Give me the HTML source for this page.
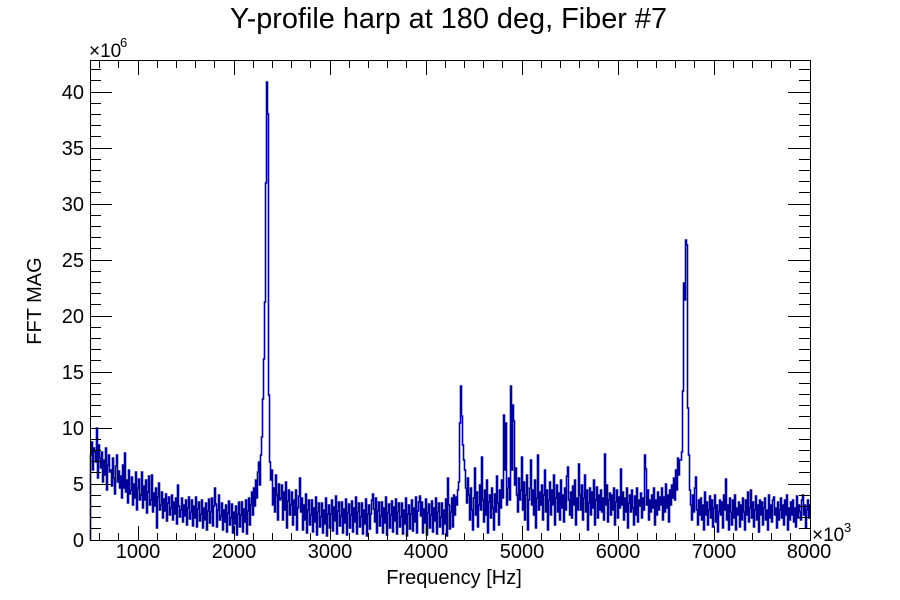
<!DOCTYPE html>
<html><head><meta charset="utf-8"><style>
html,body{margin:0;padding:0;background:#fff;}
svg{display:block;}
text{font-family:"Liberation Sans",Arial,sans-serif;fill:#000;}
</style></head><body>
<svg width="900" height="600" viewBox="0 0 900 600" xmlns="http://www.w3.org/2000/svg">
<rect x="0" y="0" width="900" height="600" fill="#fff"/>
<text x="448.5" y="28" font-size="28.5" text-anchor="middle" textLength="437" lengthAdjust="spacingAndGlyphs">Y-profile harp at 180 deg, Fiber #7</text>
<path fill="none" stroke="#000099" stroke-width="1.6" d="M90.5,540V455h1V442h1V470h1V448h1V452h1V462h1V428h1V478h1V445h1V458h1V468h1V452h1V482h1V460h1V475h1V448h1V490h1V465h1V455h1V472h1V470h1V486h1V458h1V478h1V494h1V466h1V455h1V482h1V471h1V488h1V476h1V498h1V465h1V488h1V453h1V492h1V480h1V503h1V470h1V494h1V490h1V477h1V505h1V484h1V498h1V472h1V510h1V488h1V479h1V500h1V495h1V472h1V508h1V486h1V500h1V480h1V513h1V492h1V476h1V505h1V500h1V475h1V512h1V493h1V506h1V488h1V528h1V497h1V483h1V510h1V505h1V492h1V518h1V499h1V511h1V494h1V521h1V503h1V497h1V515h1V508h1V495h1V520h1V502h1V514h1V498h1V524h1V485h1V506h1V517h1V510h1V498h1V522h1V505h1V516h1V500h1V525h1V508h1V497h1V519h1V512h1V500h1V526h1V506h1V518h1V497h1V527h1V509h1V502h1V521h1V514h1V500h1V528h1V508h1V520h1V503h1V530h1V511h1V499h1V523h1V512h1V498h1V526h1V506h1V488h1V504h1V527h1V510h1V495h1V520h1V516h1V503h1V530h1V510h1V522h1V505h1V532h1V513h1V501h1V525h1V518h1V504h1V533h1V512h1V524h1V506h1V535h1V514h1V502h1V527h1V515h1V502h1V532h1V509h1V522h1V500h1V534h1V511h1V498h1V525h1V505h1V492h1V515h1V488h1V506h1V480h1V498h1V472h1V462h1V485h1V455h1V437h1V399h1V359h1V302h1V183h1V82h1V114h1V395h1V462h1V480h1V470h1V505h1V488h1V512h1V475h1V495h1V520h1V484h1V500h1V498h1V485h1V520h1V492h1V510h1V482h1V528h1V501h1V490h1V515h1V505h1V492h1V525h1V500h1V515h1V490h1V530h1V508h1V496h1V478h1V512h1V498h1V530h1V505h1V520h1V494h1V533h1V510h1V500h1V525h1V515h1V500h1V532h1V508h1V522h1V497h1V535h1V512h1V503h1V527h1V517h1V503h1V533h1V510h1V524h1V498h1V536h1V514h1V505h1V528h1V514h1V500h1V531h1V507h1V521h1V496h1V534h1V511h1V502h1V526h1V516h1V502h1V533h1V509h1V523h1V499h1V535h1V513h1V504h1V528h1V515h1V501h1V532h1V508h1V522h1V497h1V534h1V512h1V503h1V527h1V517h1V503h1V534h1V510h1V524h1V499h1V536h1V514h1V505h1V529h1V514h1V500h1V494h1V509h1V522h1V498h1V533h1V511h1V502h1V526h1V516h1V502h1V533h1V508h1V523h1V497h1V535h1V513h1V504h1V528h1V515h1V501h1V532h1V507h1V521h1V499h1V534h1V512h1V503h1V527h1V517h1V503h1V534h1V510h1V524h1V498h1V536h1V514h1V505h1V529h1V514h1V500h1V531h1V508h1V522h1V497h1V533h1V511h1V502h1V496h1V516h1V502h1V533h1V509h1V523h1V499h1V535h1V513h1V504h1V528h1V515h1V501h1V532h1V508h1V521h1V498h1V534h1V512h1V503h1V527h1V517h1V503h1V534h1V510h1V524h1V499h1V536h1V478h1V505h1V529h1V512h1V498h1V527h1V495h1V515h1V497h1V505h1V490h1V482h1V423h1V386h1V416h1V445h1V460h1V470h1V488h1V503h1V478h1V495h1V520h1V488h1V510h1V530h1V498h1V468h1V515h1V492h1V527h1V505h1V485h1V510h1V457h1V500h1V522h1V490h1V515h1V480h1V533h1V502h1V495h1V518h1V488h1V508h1V530h1V494h1V512h1V476h1V503h1V525h1V490h1V508h1V480h1V498h1V415h1V470h1V423h1V505h1V488h1V478h1V500h1V386h1V470h1V405h1V421h1V485h1V468h1V495h1V512h1V478h1V500h1V490h1V457h1V510h1V482h1V520h1V495h1V475h1V530h1V500h1V488h1V460h1V505h1V490h1V515h1V480h1V528h1V498h1V455h1V510h1V492h1V505h1V485h1V520h1V495h1V470h1V512h1V490h1V530h1V500h1V482h1V515h1V490h1V505h1V475h1V525h1V498h1V485h1V512h1V493h1V520h1V480h1V508h1V495h1V522h1V488h1V510h1V476h1V467h1V500h1V515h1V492h1V518h1V486h1V505h1V480h1V525h1V498h1V510h1V464h1V495h1V510h1V485h1V520h1V498h1V475h1V512h1V490h1V530h1V503h1V488h1V515h1V492h1V508h1V480h1V525h1V500h1V487h1V518h1V495h1V510h1V490h1V512h1V498h1V520h1V454h1V505h1V485h1V522h1V500h1V493h1V515h1V495h1V510h1V488h1V525h1V502h1V490h1V518h1V497h1V508h1V469h1V505h1V492h1V520h1V498h1V512h1V488h1V528h1V503h1V495h1V512h1V490h1V508h1V525h1V496h1V515h1V488h1V522h1V500h1V506h1V493h1V518h1V498h1V510h1V455h1V469h1V505h1V490h1V520h1V500h1V512h1V495h1V508h1V488h1V525h1V500h1V515h1V492h1V510h1V497h1V505h1V488h1V520h1V497h1V512h1V484h1V508h1V495h1V522h1V490h1V505h1V485h1V498h1V478h1V500h1V470h1V490h1V458h1V475h1V460h1V460h1V452h1V391h1V283h1V300h1V240h1V245h1V408h1V455h1V490h1V505h1V520h1V495h1V512h1V488h1V477h1V510h1V525h1V500h1V515h1V498h1V520h1V505h1V530h1V492h1V515h1V502h1V525h1V510h1V496h1V518h1V500h1V527h1V508h1V495h1V522h1V505h1V532h1V512h1V500h1V515h1V502h1V528h1V495h1V510h1V479h1V520h1V505h1V530h1V498h1V512h1V525h1V500h1V518h1V495h1V530h1V508h1V515h1V502h1V527h1V505h1V520h1V498h1V512h1V530h1V500h1V515h1V492h1V522h1V508h1V490h1V518h1V502h1V527h1V510h1V496h1V520h1V505h1V532h1V500h1V515h1V502h1V525h1V508h1V498h1V520h1V510h1V530h1V495h1V518h1V505h1V522h1V500h1V497h1V515h1V508h1V528h1V502h1V520h1V510h1V498h1V518h1V505h1V525h1V500h1V515h1V495h1V530h1V508h1V520h1V502h1V515h1V500h1V522h1V508h1V527h1V496h1V518h1V505h1V512h1V520h1V500h1V495h1V515h1V505h1V528h1V510h1V500h1V518h1V505h1"/>
<g stroke="#000" stroke-width="1" fill="none" shape-rendering="crispEdges">
<rect x="90.5" y="60.5" width="720" height="480"/>
<path d="M138.5,540V526M234.5,540V526M330.5,540V526M426.5,540V526M522.5,540V526M618.5,540V526M714.5,540V526M99.5,540V533M118.5,540V533M157.5,540V533M176.5,540V533M195.5,540V533M214.5,540V533M253.5,540V533M272.5,540V533M291.5,540V533M310.5,540V533M349.5,540V533M368.5,540V533M387.5,540V533M406.5,540V533M445.5,540V533M464.5,540V533M483.5,540V533M502.5,540V533M541.5,540V533M560.5,540V533M579.5,540V533M598.5,540V533M637.5,540V533M656.5,540V533M675.5,540V533M694.5,540V533M733.5,540V533M752.5,540V533M771.5,540V533M790.5,540V533"/>
<path d="M138.5,61V75M234.5,61V75M330.5,61V75M426.5,61V75M522.5,61V75M618.5,61V75M714.5,61V75M99.5,61V68M118.5,61V68M157.5,61V68M176.5,61V68M195.5,61V68M214.5,61V68M253.5,61V68M272.5,61V68M291.5,61V68M310.5,61V68M349.5,61V68M368.5,61V68M387.5,61V68M406.5,61V68M445.5,61V68M464.5,61V68M483.5,61V68M502.5,61V68M541.5,61V68M560.5,61V68M579.5,61V68M598.5,61V68M637.5,61V68M656.5,61V68M675.5,61V68M694.5,61V68M733.5,61V68M752.5,61V68M771.5,61V68M790.5,61V68"/>
<path d="M91,484.5H112M91,428.5H112M91,372.5H112M91,316.5H112M91,260.5H112M91,204.5H112M91,148.5H112M91,92.5H112M91,528.5H101M91,517.5H101M91,506.5H101M91,495.5H101M91,472.5H101M91,461.5H101M91,450.5H101M91,439.5H101M91,416.5H101M91,405.5H101M91,394.5H101M91,383.5H101M91,360.5H101M91,349.5H101M91,338.5H101M91,327.5H101M91,304.5H101M91,293.5H101M91,282.5H101M91,271.5H101M91,248.5H101M91,237.5H101M91,226.5H101M91,215.5H101M91,192.5H101M91,181.5H101M91,170.5H101M91,159.5H101M91,136.5H101M91,125.5H101M91,114.5H101M91,103.5H101M91,80.5H101M91,69.5H101"/>
<path d="M810,484.5H788M810,428.5H788M810,372.5H788M810,316.5H788M810,260.5H788M810,204.5H788M810,148.5H788M810,92.5H788M810,528.5H799M810,517.5H799M810,506.5H799M810,495.5H799M810,472.5H799M810,461.5H799M810,450.5H799M810,439.5H799M810,416.5H799M810,405.5H799M810,394.5H799M810,383.5H799M810,360.5H799M810,349.5H799M810,338.5H799M810,327.5H799M810,304.5H799M810,293.5H799M810,282.5H799M810,271.5H799M810,248.5H799M810,237.5H799M810,226.5H799M810,215.5H799M810,192.5H799M810,181.5H799M810,170.5H799M810,159.5H799M810,136.5H799M810,125.5H799M810,114.5H799M810,103.5H799M810,80.5H799M810,69.5H799"/>
</g>
<g font-size="20" text-anchor="end">
<text x="84" y="547">0</text>
<text x="84" y="491">5</text>
<text x="84" y="435">10</text>
<text x="84" y="379">15</text>
<text x="84" y="323">20</text>
<text x="84" y="267">25</text>
<text x="84" y="211">30</text>
<text x="84" y="155">35</text>
<text x="84" y="99">40</text>
</g>
<g font-size="20" text-anchor="middle">
<text x="138" y="558">1000</text>
<text x="234" y="558">2000</text>
<text x="330" y="558">3000</text>
<text x="426" y="558">4000</text>
<text x="522" y="558">5000</text>
<text x="618" y="558">6000</text>
<text x="714" y="558">7000</text>
<text x="809" y="558">8000</text>
</g>
<text x="89" y="57" font-size="19">×10</text>
<text x="120" y="47" font-size="13">6</text>
<text x="812" y="541" font-size="19">×10</text>
<text x="844" y="532" font-size="13">3</text>
<text x="454" y="584" font-size="20" text-anchor="middle">Frequency [Hz]</text>
<text transform="translate(41,301) rotate(-90)" font-size="20" text-anchor="middle">FFT MAG</text>
</svg>
</body></html>
